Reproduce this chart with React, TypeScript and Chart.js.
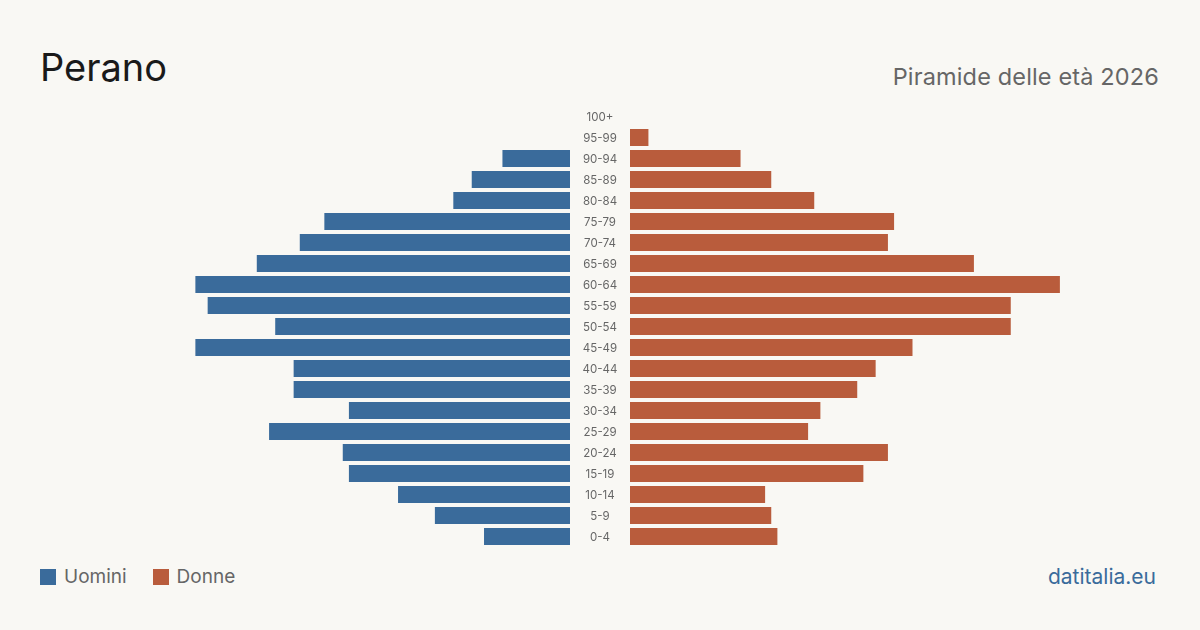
import React, { useEffect, useRef } from "react";
import { Chart, registerables } from "chart.js";

Chart.register(...registerables);

const ageGroups = ["100+", "95-99", "90-94", "85-89", "80-84", "75-79", "70-74", "65-69", "60-64", "55-59", "50-54", "45-49", "40-44", "35-39", "30-34", "25-29", "20-24", "15-19", "10-14", "5-9", "0-4"];
const men = [0, 0, 11, 16, 19, 40, 44, 51, 61, 59, 48, 61, 45, 45, 36, 49, 37, 36, 28, 22, 14];
const women = [0, 3, 18, 23, 30, 43, 42, 56, 70, 62, 62, 46, 40, 37, 31, 29, 42, 38, 22, 23, 24];
const axisMax = 86.3;

const BLUE = "#3a6b9b";
const ORANGE = "#b95c3c";
const BG = "#f9f8f4";
const FONT = "Inter, 'Noto Sans', sans-serif";

function makeConfig(values: number[], color: string, reverse: boolean, withLabels: boolean): any {
  const labelPlugin = {
    id: "centerLabels",
    afterDatasetsDraw(chart: any) {
      if (!withLabels) return;
      const ctx = chart.ctx;
      const y = chart.scales.y;
      ctx.save();
      ctx.fillStyle = "#666";
      ctx.font = `11.5px ${FONT}`;
      ctx.textAlign = "center";
      ctx.textBaseline = "middle";
      ageGroups.forEach((g, i) => {
        ctx.fillText(g, chart.chartArea.left - 30, y.getPixelForValue(i) + 1);
      });
      ctx.restore();
    },
  };
  return {
    type: "bar",
    data: {
      labels: ageGroups,
      datasets: [{ data: values, backgroundColor: color, borderWidth: 0, barPercentage: 1, categoryPercentage: 0.81 }],
    },
    options: {
      indexAxis: "y",
      animation: false,
      responsive: false,
      maintainAspectRatio: false,
      layout: { padding: withLabels ? { left: 60 } : 0 },
      plugins: { legend: { display: false }, tooltip: { enabled: false }, title: { display: false } },
      scales: {
        x: { display: false, min: 0, max: axisMax, reverse },
        y: { display: false },
      },
    },
    plugins: [labelPlugin],
  };
}

function Pyramid() {
  const leftRef = useRef<HTMLCanvasElement>(null);
  const rightRef = useRef<HTMLCanvasElement>(null);
  useEffect(() => {
    const l = new Chart(leftRef.current!, makeConfig(men, BLUE, true, false));
    const r = new Chart(rightRef.current!, makeConfig(women, ORANGE, false, true));
    return () => {
      l.destroy();
      r.destroy();
    };
  }, []);
  return (
    <>
      <canvas ref={leftRef} width={530} height={441} style={{ position: "absolute", left: 40, top: 105.5, width: 530, height: 441 }} />
      <canvas ref={rightRef} width={590} height={441} style={{ position: "absolute", left: 570, top: 105.5, width: 590, height: 441 }} />
    </>
  );
}

export default function App() {
  return (
    <div style={{ position: "fixed", left: 0, top: 0, width: 1200, height: 630, background: BG, fontFamily: FONT, overflow: "hidden" }}>
      <div style={{ position: "absolute", left: 40, top: 42, fontSize: 38, color: "#1a1a1a", lineHeight: "50px" }}>Perano</div>
      <div style={{ position: "absolute", right: 41, top: 62, fontSize: 23.5, color: "#666", lineHeight: "30px", letterSpacing: 0.15 }}>Piramide delle età 2026</div>
      <Pyramid />
      <div style={{ position: "absolute", left: 40, top: 565, display: "flex", alignItems: "center", fontSize: 19, color: "#666", lineHeight: "24px" }}>
        <span style={{ display: "inline-block", width: 16, height: 16, background: BLUE, marginRight: 8 }} />
        <span style={{ marginRight: 26 }}>Uomini</span>
        <span style={{ display: "inline-block", width: 16, height: 16, background: ORANGE, marginRight: 8 }} />
        <span>Donne</span>
      </div>
      <div style={{ position: "absolute", right: 44, top: 564, fontSize: 21, color: BLUE, lineHeight: "26px" }}>datitalia.eu</div>
    </div>
  );
}
